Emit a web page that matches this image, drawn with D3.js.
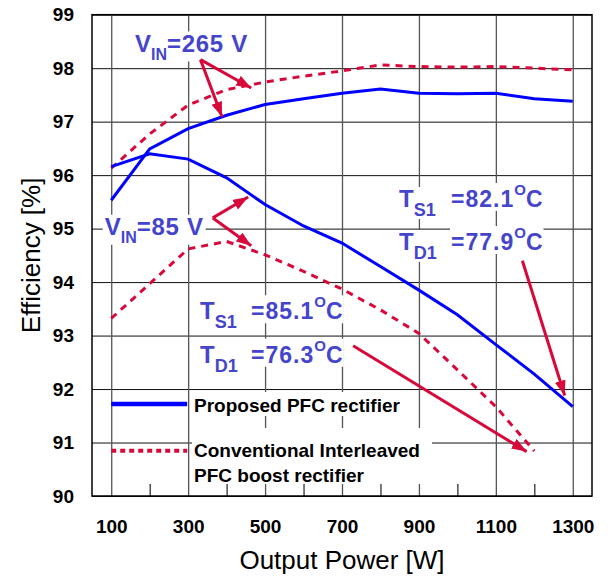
<!DOCTYPE html>
<meta charset="utf-8">
<html>
<head>
<title>Efficiency</title>
<script src="https://d3js.org/d3.v7.min.js"></script>
<style>
body { margin: 0; background: #fff; }
text { font-family: "Liberation Sans", Arial, sans-serif; }
</style>
</head>
<body>
<script>
// output power [W]
var power = [100, 200, 300, 400, 500, 600, 700, 800, 900, 1000, 1100, 1200, 1300]
// efficiency [%]
var proposed265 = [95.53, 96.49, 96.87, 97.12, 97.32, 97.43, 97.53, 97.61, 97.53, 97.52, 97.53, 97.43, 97.38]
var conventional265 = [96.13, 96.77, 97.31, 97.6, 97.74, 97.85, 97.95, 98.06, 98.03, 98.02, 98.03, 98.0, 97.97]
var proposed85 = [96.16, 96.4, 96.3, 95.95, 95.45, 95.05, 94.73, 94.29, 93.85, 93.39, 92.83, 92.28, 91.67]
var conventional85 = [93.32, 93.97, 94.62, 94.76, 94.51, 94.2, 93.87, 93.48, 93.04, 92.36, 91.67, 90.84]

var xTicks = [100, 300, 500, 700, 900, 1100, 1300]
var xMinor = [200, 400, 600, 800, 1000, 1200]
var yTicks = [90, 91, 92, 93, 94, 95, 96, 97, 98, 99]

// annotation arrows, in data units: [fromP, fromEff, toP, toEff]
var arrows = [
    [332, 98.16, 464, 97.63],
    [332, 98.16, 388, 97.09],
    [364, 95.2, 456, 95.59],
    [364, 95.2, 464, 94.68],
    [729, 92.81, 1180, 90.83],
    [1169, 94.4, 1279, 91.88]
]

var svgWidth = 611, svgHeight = 578
var plotLeft = 92, plotRight = 592, plotTop = 14.7, plotBottom = 496
var blue = "#0000ff", red = "#d8083a", labelColor = "#4545cc"

var svg = d3.select("body").append("svg")
    .attr("width", svgWidth)
    .attr("height", svgHeight)

var x = d3.scaleLinear().domain([50, 1350]).range([plotLeft, plotRight])
var y = d3.scaleLinear().domain([90, 99]).range([plotBottom, plotTop])

// grid
var yGrid = svg.append("g")
    .attr("transform", "translate(" + plotLeft + ",0)")
    .call(d3.axisLeft(y).tickValues(yTicks).tickSize(-(plotRight - plotLeft)).tickFormat(""))
yGrid.select(".domain").remove()
yGrid.selectAll("line").attr("stroke", "#111").attr("stroke-width", 1)

var xGrid = svg.append("g")
    .attr("transform", "translate(0," + plotBottom + ")")
    .call(d3.axisBottom(x).tickValues(xTicks).tickSize(-(plotBottom - plotTop)).tickFormat(""))
xGrid.select(".domain").remove()
xGrid.selectAll("line").attr("stroke", "#555").attr("stroke-width", 1.3)

var xMin = svg.append("g")
    .attr("transform", "translate(0," + plotBottom + ")")
    .call(d3.axisBottom(x).tickValues(xMinor).tickSize(-12).tickFormat(""))
xMin.select(".domain").remove()
xMin.selectAll("line").attr("stroke", "#222").attr("stroke-width", 1.2)

// tick labels
var xLab = svg.append("g")
    .attr("transform", "translate(0," + plotBottom + ")")
    .call(d3.axisBottom(x).tickValues(xTicks).tickSize(0).tickPadding(23.5).tickFormat(d3.format("d")))
xLab.select(".domain").remove()
xLab.selectAll("text").attr("font-size", 19).attr("font-weight", "bold")
    .attr("font-family", "Liberation Sans, Arial, sans-serif").attr("fill", "#000")

var yLab = svg.append("g")
    .attr("transform", "translate(" + plotLeft + ",0)")
    .call(d3.axisLeft(y).tickValues(yTicks).tickSize(0).tickPadding(18).tickFormat(d3.format("d")))
yLab.select(".domain").remove()
yLab.selectAll("text").attr("font-size", 19).attr("font-weight", "bold")
    .attr("font-family", "Liberation Sans, Arial, sans-serif").attr("fill", "#000")

// axis titles
svg.append("text")
    .attr("x", (plotLeft + plotRight) / 2)
    .attr("y", 569)
    .attr("text-anchor", "middle")
    .attr("font-size", 26)
    .text("Output Power [W]")

svg.append("text")
    .attr("transform", "translate(40," + ((plotTop + plotBottom) / 2) + ") rotate(-90)")
    .attr("text-anchor", "middle")
    .attr("font-size", 26)
    .text("Efficiency [%]")

// labels with white boxes behind them
var labels = svg.append("g")
function boxed(xPos, yPos, parts, pad) {
    var t = labels.append("text")
        .attr("x", xPos).attr("y", yPos)
        .attr("fill", labelColor)
        .attr("font-weight", "bold")
    parts.forEach(p => {
        t.append("tspan")
            .attr("font-size", p.size)
            .attr("dy", p.dy || 0)
            .attr("letter-spacing", p.ls || 0)
            .text(p.text)
    })
    var b = t.node().getBBox()
    pad = pad || 1
    labels.insert("rect", function(){ return t.node() })
        .attr("x", b.x - pad).attr("y", b.y + 2)
        .attr("width", b.width + 2 * pad).attr("height", b.height - 3)
        .attr("fill", "#fff")
    return t
}

boxed(135, 51.5, [
    {text: "V", size: 24},
    {text: "IN", size: 16, dy: 8},
    {text: "=265 V", size: 24, dy: -8, ls: 0.7}
], 2)
boxed(104.7, 234.7, [
    {text: "V", size: 24},
    {text: "IN", size: 16, dy: 8},
    {text: "=85 V", size: 24, dy: -8, ls: 0.7}
], 2)

function tempLabel(xT, xEq, yBase, sub, value) {
    boxed(xT, yBase, [
        {text: "T", size: 24},
        {text: sub, size: 18, dy: 9}
    ])
    boxed(xEq, yBase, [
        {text: "=" + value, size: 23, ls: 1},
        {text: "O", size: 15, dy: -12},
        {text: "C", size: 23, dy: 12}
    ])
}
tempLabel(399, 451, 207, "S1", "82.1")
tempLabel(399, 451, 250, "D1", "77.9")
tempLabel(200, 251, 319.3, "S1", "85.1")
tempLabel(200, 251, 362.7, "D1", "76.3")

// legend
var legend = svg.append("g")
legend.append("rect").attr("x", 192).attr("y", 392).attr("width", 217).attr("height", 24).attr("fill", "#fff")
legend.append("rect").attr("x", 192).attr("y", 428).attr("width", 240).attr("height", 56).attr("fill", "#fff")
legend.append("line")
    .attr("x1", x(100)).attr("x2", x(300) - 1).attr("y1", 404).attr("y2", 404)
    .attr("stroke", blue).attr("stroke-width", 4.5)
legend.append("line")
    .attr("x1", x(100)).attr("x2", x(300) - 1).attr("y1", 450.7).attr("y2", 450.7)
    .attr("stroke", red).attr("stroke-width", 4).attr("stroke-dasharray", "5,4")
var legText = legend.append("g").attr("font-size", 19).attr("font-weight", "bold").attr("fill", "#000")
legText.append("text").attr("x", 194).attr("y", 411.5).text("Proposed PFC rectifier")
legText.append("text").attr("x", 194).attr("y", 457.3).text("Conventional Interleaved")
legText.append("text").attr("x", 194).attr("y", 481.7).text("PFC boost rectifier")

// curves
var line = d3.line().x(d => x(d[0])).y(d => y(d[1]))
function series(vals) { return vals.map((v, i) => [power[i], v]) }

svg.append("path").datum(series(conventional265))
    .attr("d", line).attr("fill", "none").attr("stroke", red)
    .attr("stroke-width", 3).attr("stroke-dasharray", "7,6")
svg.append("path").datum(series(conventional85))
    .attr("d", line).attr("fill", "none").attr("stroke", red)
    .attr("stroke-width", 3).attr("stroke-dasharray", "7,6")
svg.append("path").datum(series(proposed265))
    .attr("d", line).attr("fill", "none").attr("stroke", blue).attr("stroke-width", 3)
svg.append("path").datum(series(proposed85))
    .attr("d", line).attr("fill", "none").attr("stroke", blue).attr("stroke-width", 3)

// arrows
svg.append("defs").append("marker")
    .attr("id", "head")
    .attr("markerUnits", "userSpaceOnUse")
    .attr("markerWidth", 16).attr("markerHeight", 12)
    .attr("refX", 15).attr("refY", 5.5)
    .attr("orient", "auto")
    .append("path").attr("d", "M0,0 L15,5.5 L0,11 Z").attr("fill", red)

svg.append("g").selectAll("line")
    .data(arrows).enter()
    .append("line")
    .attr("x1", d => x(d[0])).attr("y1", d => y(d[1]))
    .attr("x2", d => x(d[2])).attr("y2", d => y(d[3]))
    .attr("stroke", red).attr("stroke-width", 3)
    .attr("marker-end", "url(#head)")

// frame
svg.append("rect")
    .attr("x", plotLeft).attr("y", plotTop)
    .attr("width", plotRight - plotLeft).attr("height", plotBottom - plotTop)
    .attr("fill", "none").attr("stroke", "#000").attr("stroke-width", 1.5)
</script>
</body>
</html>
